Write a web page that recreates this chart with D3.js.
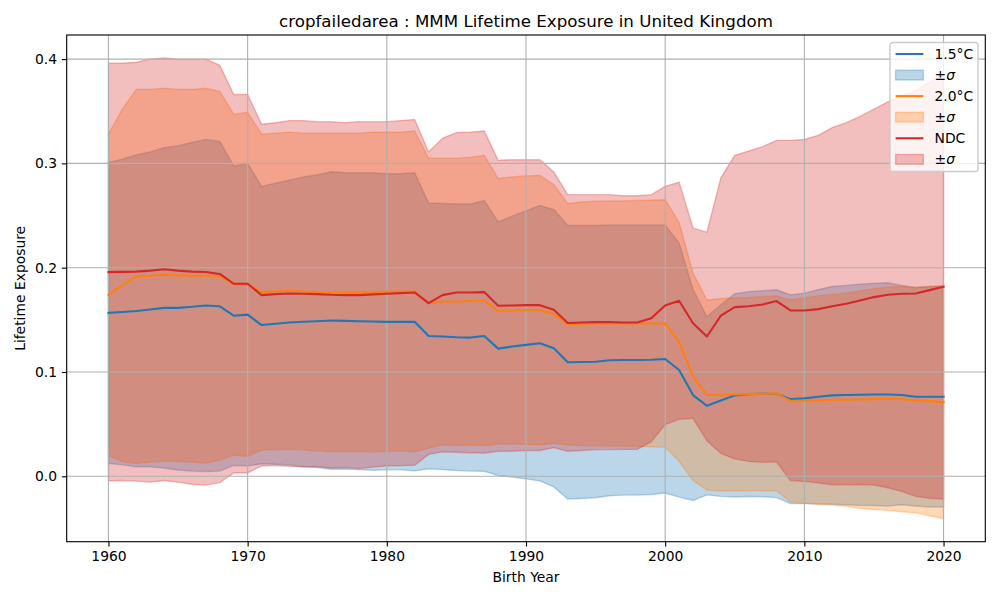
<!DOCTYPE html>
<html lang="en">
  <head>
    <meta charset="UTF-8" />
    <title>cropfailedarea : MMM Lifetime Exposure in United Kingdom</title>
    <script src="https://d3js.org/d3.v7.min.js"></script>
    <style>
      body {
        margin: 0;
        background: #ffffff;
      }
      svg {
        display: block;
        font-family: 'DejaVu Sans', sans-serif;
      }
    </style>
  </head>
  <body>
    <div id="chart"></div>
    <script>
      const years = d3.range(1960, 2021);

      // 1.5°C scenario: mean and standard deviation per birth year
      const mean15 = [
        0.1567, 0.1575, 0.1585, 0.16, 0.1615, 0.1615, 0.1625, 0.1638, 0.163, 0.154,
        0.155, 0.145, 0.1463, 0.1475, 0.1481, 0.1487, 0.1494, 0.149, 0.1487, 0.1484,
        0.1481, 0.1481, 0.1481, 0.1346, 0.134, 0.1333, 0.133, 0.1346, 0.1224, 0.1244,
        0.126, 0.1276, 0.1228, 0.1093, 0.1096, 0.1099, 0.1112, 0.1115, 0.1115, 0.1118,
        0.1125, 0.1019, 0.0779, 0.0676, 0.0726, 0.0776, 0.0788, 0.0792, 0.0792, 0.074,
        0.0747, 0.0763, 0.0776, 0.0779, 0.0782, 0.0785, 0.0785, 0.0779, 0.0763, 0.0763,
        0.0763,
      ];
      const std15 = [
        0.1443, 0.1465, 0.1495, 0.151, 0.1535, 0.1555, 0.1575, 0.1592, 0.158, 0.1435,
        0.145, 0.133, 0.1347, 0.1365, 0.1389, 0.1403, 0.1426, 0.142, 0.1423, 0.1426,
        0.1419, 0.1419, 0.1429, 0.1274, 0.1275, 0.1277, 0.128, 0.1298, 0.1216, 0.125,
        0.1285, 0.132, 0.133, 0.1311, 0.1308, 0.1305, 0.1298, 0.1295, 0.1295, 0.1292,
        0.1285, 0.1218, 0.1011, 0.0854, 0.0918, 0.0974, 0.0982, 0.0988, 0.0996, 0.1,
        0.1009, 0.1027, 0.1044, 0.1051, 0.1061, 0.1065, 0.1071, 0.1051, 0.1047, 0.1057,
        0.1057,
      ];

      // 2.0°C scenario
      const mean20 = [
        0.174, 0.183, 0.1917, 0.1923, 0.1933, 0.1926, 0.1923, 0.1923, 0.1923, 0.1837,
        0.184, 0.1766, 0.1772, 0.1779, 0.1772, 0.1766, 0.1763, 0.1763, 0.1763, 0.1766,
        0.1769, 0.1772, 0.1772, 0.166, 0.1676, 0.1673, 0.168, 0.1686, 0.1583, 0.159,
        0.1593, 0.1593, 0.1558, 0.1458, 0.1462, 0.1465, 0.1465, 0.1465, 0.1465, 0.1465,
        0.1465, 0.129, 0.0955, 0.0779, 0.0782, 0.0785, 0.0788, 0.0792, 0.0795, 0.0724,
        0.0727, 0.073, 0.0734, 0.0734, 0.0737, 0.074, 0.0744, 0.074, 0.073, 0.0721,
        0.0712,
      ];
      const std20 = [
        0.154, 0.169, 0.1793, 0.1787, 0.1787, 0.1784, 0.1787, 0.1797, 0.1767, 0.1633,
        0.165, 0.1514, 0.1518, 0.1521, 0.1518, 0.1524, 0.1527, 0.1527, 0.1527, 0.1534,
        0.1531, 0.1528, 0.1538, 0.139, 0.1374, 0.1377, 0.138, 0.1391, 0.1273, 0.128,
        0.1287, 0.1292, 0.124, 0.1157, 0.1168, 0.1173, 0.1175, 0.1175, 0.118, 0.1183,
        0.1187, 0.1146, 0.0995, 0.0911, 0.0923, 0.0925, 0.0927, 0.0932, 0.0935, 0.0968,
        0.0983, 0.1, 0.101, 0.1022, 0.1043, 0.1058, 0.107, 0.108, 0.108, 0.1099,
        0.1118,
      ];

      // NDC scenario
      const meanNDC = [
        0.1958, 0.196, 0.1962, 0.1972, 0.1985, 0.1972, 0.1962, 0.1958, 0.194, 0.1846,
        0.1846, 0.1737, 0.1747, 0.1753, 0.175, 0.1747, 0.174, 0.1737, 0.1737, 0.1744,
        0.175, 0.1756, 0.1763, 0.166, 0.1737, 0.1763, 0.1763, 0.1766, 0.1635, 0.1638,
        0.1641, 0.1641, 0.1596, 0.147, 0.1474, 0.1478, 0.1478, 0.1474, 0.1474, 0.1516,
        0.1638, 0.1683, 0.1468, 0.134, 0.1541, 0.1622, 0.1631, 0.1647, 0.168, 0.159,
        0.159, 0.1603, 0.1631, 0.1654, 0.1686, 0.1718, 0.174, 0.175, 0.1753, 0.1785,
        0.1817,
      ];
      const stdNDC = [
        0.2002, 0.2, 0.2008, 0.2028, 0.2025, 0.2028, 0.2038, 0.2042, 0.2, 0.1814,
        0.1814, 0.1638, 0.1643, 0.1657, 0.166, 0.1653, 0.166, 0.1653, 0.1663, 0.1656,
        0.165, 0.1654, 0.1657, 0.145, 0.1503, 0.1532, 0.1537, 0.1544, 0.1395, 0.1397,
        0.1394, 0.1394, 0.1321, 0.123, 0.1226, 0.1222, 0.1222, 0.1216, 0.1216, 0.1184,
        0.1142, 0.1137, 0.0912, 0.1, 0.1321, 0.1455, 0.1488, 0.1513, 0.1541, 0.1631,
        0.1639, 0.1666, 0.1712, 0.1736, 0.1764, 0.1802, 0.185, 0.1895, 0.1945, 0.1995,
        0.2035,
      ];

      const xTicks = [1960, 1970, 1980, 1990, 2000, 2010, 2020];
      const yTicks = [0.0, 0.1, 0.2, 0.3, 0.4];

      const series = [
        { label: '1.5°C', color: '#1f77b4', mean: mean15, std: std15 },
        { label: '2.0°C', color: '#ff7f0e', mean: mean20, std: std20 },
        { label: 'NDC', color: '#d62728', mean: meanNDC, std: stdNDC },
      ];

      const w = 1000,
        h = 600;
      const m = { left: 66.7, right: 14.7, top: 35, bottom: 58.3 };
      const pt = 100 / 72;

      const svg = d3
        .select('#chart')
        .append('svg')
        .attr('width', w)
        .attr('height', h);

      // matplotlib-like 5% margins around the data
      const xExt = d3.extent(years);
      const xPad = (xExt[1] - xExt[0]) * 0.05;
      const lows = series.flatMap((s) => s.mean.map((v, i) => v - s.std[i]));
      const highs = series.flatMap((s) => s.mean.map((v, i) => v + s.std[i]));
      const yMin = d3.min(lows),
        yMax = d3.max(highs);
      const yPad = (yMax - yMin) * 0.05;

      const x = d3
        .scaleLinear()
        .domain([xExt[0] - xPad, xExt[1] + xPad])
        .range([m.left, w - m.right]);
      const y = d3
        .scaleLinear()
        .domain([yMin - yPad, yMax + yPad])
        .range([h - m.bottom, m.top]);

      // bands
      series.forEach((s) => {
        const area = d3
          .area()
          .x((d, i) => x(years[i]))
          .y0((d, i) => y(s.mean[i] - s.std[i]))
          .y1((d, i) => y(s.mean[i] + s.std[i]));
        svg
          .append('path')
          .datum(years)
          .attr('d', area)
          .attr('fill', s.color)
          .attr('fill-opacity', 0.3)
          .attr('stroke', s.color)
          .attr('stroke-opacity', 0.3)
          .attr('stroke-width', pt);
      });

      // grid
      const grid = svg.append('g').attr('stroke', '#b0b0b0').attr('stroke-width', 0.8 * pt);
      grid
        .selectAll('.gx')
        .data(xTicks)
        .join('line')
        .attr('x1', (d) => x(d))
        .attr('x2', (d) => x(d))
        .attr('y1', m.top)
        .attr('y2', h - m.bottom);
      grid
        .selectAll('.gy')
        .data(yTicks)
        .join('line')
        .attr('y1', (d) => y(d))
        .attr('y2', (d) => y(d))
        .attr('x1', m.left)
        .attr('x2', w - m.right);

      // mean lines
      series.forEach((s) => {
        const line = d3
          .line()
          .x((d, i) => x(years[i]))
          .y((d) => y(d));
        svg
          .append('path')
          .datum(s.mean)
          .attr('d', line)
          .attr('fill', 'none')
          .attr('stroke', s.color)
          .attr('stroke-width', 1.5 * pt)
          .attr('stroke-linejoin', 'round')
          .attr('stroke-linecap', 'square');
      });

      // axes
      const xAxis = svg
        .append('g')
        .attr('transform', `translate(0,${h - m.bottom})`)
        .call(
          d3
            .axisBottom(x)
            .tickValues(xTicks)
            .tickFormat(d3.format('d'))
            .tickSize(3.5 * pt)
            .tickPadding(3.5 * pt),
        );
      const yAxis = svg
        .append('g')
        .attr('transform', `translate(${m.left},0)`)
        .call(
          d3
            .axisLeft(y)
            .tickValues(yTicks)
            .tickFormat(d3.format('.1f'))
            .tickSize(3.5 * pt)
            .tickPadding(3.5 * pt),
        );
      [xAxis, yAxis].forEach((a) => {
        a.select('.domain').remove();
        a.selectAll('line').attr('stroke', '#000').attr('stroke-width', 0.8 * pt);
        a.selectAll('text')
          .attr('fill', '#000')
          .style('font-family', "'DejaVu Sans', sans-serif")
          .style('font-size', 10 * pt + 'px');
      });

      // frame
      svg
        .append('rect')
        .attr('x', m.left)
        .attr('y', m.top)
        .attr('width', w - m.left - m.right)
        .attr('height', h - m.top - m.bottom)
        .attr('fill', 'none')
        .attr('stroke', '#000')
        .attr('stroke-width', 0.8 * pt);

      // titles
      svg
        .append('text')
        .attr('x', (m.left + w - m.right) / 2)
        .attr('y', 26.7)
        .attr('text-anchor', 'middle')
        .style('font-size', 12 * pt + 'px')
        .text('cropfailedarea : MMM Lifetime Exposure in United Kingdom');
      svg
        .append('text')
        .attr('x', (m.left + w - m.right) / 2)
        .attr('y', 582)
        .attr('text-anchor', 'middle')
        .style('font-size', 10 * pt + 'px')
        .text('Birth Year');
      svg
        .append('text')
        .attr('transform', `translate(25,${(m.top + h - m.bottom) / 2}) rotate(-90)`)
        .attr('text-anchor', 'middle')
        .style('font-size', 10 * pt + 'px')
        .text('Lifetime Exposure');

      // legend
      const fs = 10 * pt;
      const lg = svg.append('g').attr('transform', 'translate(890,42.5)');
      lg.append('rect')
        .attr('width', 88)
        .attr('height', 129)
        .attr('rx', 2.8)
        .attr('fill', '#fff')
        .attr('fill-opacity', 0.8)
        .attr('stroke', '#cccccc')
        .attr('stroke-width', pt);
      const rowH = 21.07;
      series.forEach((s, k) => {
        const y0 = 11.5 + k * 2 * rowH;
        const y1 = y0 + rowH;
        lg.append('line')
          .attr('x1', 5.6)
          .attr('x2', 5.6 + 2 * fs)
          .attr('y1', y0)
          .attr('y2', y0)
          .attr('stroke', s.color)
          .attr('stroke-width', 1.5 * pt);
        lg.append('text')
          .attr('x', 44.5)
          .attr('y', y0)
          .attr('dy', '0.36em')
          .style('font-size', fs + 'px')
          .text(s.label);
        lg.append('rect')
          .attr('x', 5.6)
          .attr('y', y1 - 0.35 * fs)
          .attr('width', 2 * fs)
          .attr('height', 0.7 * fs)
          .attr('fill', s.color)
          .attr('fill-opacity', 0.3)
          .attr('stroke', s.color)
          .attr('stroke-opacity', 0.3)
          .attr('stroke-width', pt);
        const t = lg
          .append('text')
          .attr('x', 44.5)
          .attr('y', y1)
          .attr('dy', '0.36em')
          .style('font-size', fs + 'px');
        t.append('tspan').text('±');
        t.append('tspan').style('font-style', 'italic').text('σ');
      });
    </script>
  </body>
</html>
